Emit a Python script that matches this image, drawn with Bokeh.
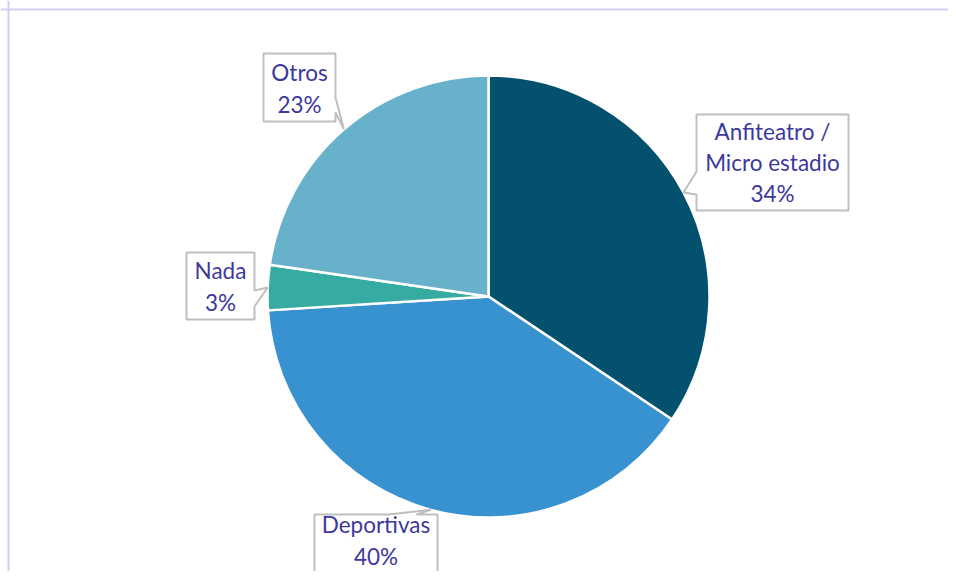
import math
from bokeh.plotting import figure
from bokeh.models import Range1d, Span
from bokeh.core.properties import value
from bokeh.embed import file_html
from bokeh.resources import INLINE

# ---- data ----
categories = ["Anfiteatro / Micro estadio", "Deportivas", "Nada", "Otros"]
shares = [34.4, 39.6, 3.3, 22.7]
colors = ["#03506f", "#3892d0", "#36aba2", "#67b2ca"]

# ---- layout (reference pixel coords) ----
W, H = 948, 571
def X(px): return px
def Y(py): return H - py

CX, CY, R = X(488), Y(296), 221

# callout boxes: left, top, right, bottom, side, base0, base1, text centre y
boxes = [
    (696, 114, 848, 210, "left", 171, 194, 162),
    (314, 514, 437, 590, "top", 388, 416, 540),
    (186, 252, 254, 319, "right", 290, 306, 286),
    (263, 53, 335, 121, "right", 97, 112, 88),
]

p = figure(width=W, height=H, output_backend="svg", toolbar_location=None,
           x_range=Range1d(0, W), y_range=Range1d(0, H), min_border=0)
p.axis.visible = False
p.grid.visible = False
p.outline_line_color = None
p.background_fill_color = "white"
p.border_fill_color = "white"

# frame lines (top and left)
p.add_layout(Span(location=Y(9), dimension="width", line_color="#d3cff0", line_width=2))
p.add_layout(Span(location=X(8), dimension="height", line_color="#d3cff0", line_width=2))

total = sum(shares)
start = math.pi / 2
starts, ends, mids = [], [], []
for s in shares:
    sweep = s / total * 2 * math.pi
    end = start - sweep
    starts.append(end)
    ends.append(start)
    mids.append((start + end) / 2)
    start = end

p.wedge(x=[CX] * len(shares), y=[CY] * len(shares), radius=R,
        start_angle=starts, end_angle=ends, fill_color=colors,
        line_color="white", line_width=2.5)

xs_list, ys_list, tx, ty, texts = [], [], [], [], []
for cat, s, m, b in zip(categories, shares, mids, boxes):
    L, T, Rr, B, side, b0, b1, tcy = b
    tipx = CX + R * math.cos(m)
    tipy = CY + R * math.sin(m)
    if side == "right":
        pts = [(X(L), Y(T)), (X(Rr), Y(T)), (X(Rr), Y(b0)), (tipx, tipy),
               (X(Rr), Y(b1)), (X(Rr), Y(B)), (X(L), Y(B))]
    elif side == "left":
        pts = [(X(L), Y(T)), (X(Rr), Y(T)), (X(Rr), Y(B)), (X(L), Y(B)),
               (X(L), Y(b1)), (tipx, tipy), (X(L), Y(b0))]
    else:
        pts = [(X(L), Y(T)), (X(b0), Y(T)), (tipx, tipy), (X(b1), Y(T)),
               (X(Rr), Y(T)), (X(Rr), Y(B)), (X(L), Y(B))]
    xs_list.append([q[0] for q in pts])
    ys_list.append([q[1] for q in pts])
    tx.append((X(L) + X(Rr)) / 2)
    ty.append(Y(tcy))
    texts.append(cat.replace("/ ", "/\n") + "\n" + f"{round(s)}%")

p.patches(xs=xs_list, ys=ys_list, fill_color="white", line_color="#bfbfbf", line_width=2)
p.text(x=tx, y=ty, text=texts, text_align="center", text_baseline="middle",
       text_font=value("Lato"), text_font_size="22.5px", text_color="#3d399c",
       text_line_height=1.15)

open("out.html", "w").write(file_html(p, INLINE))
